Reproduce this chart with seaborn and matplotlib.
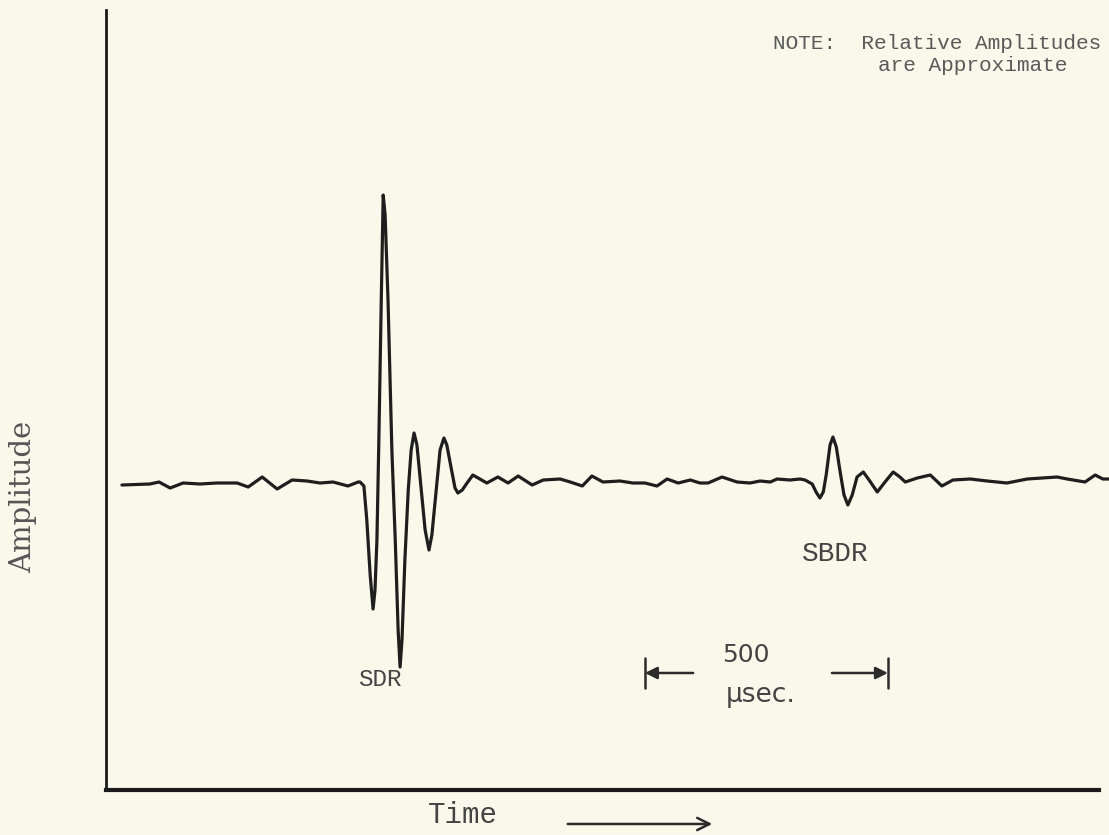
import numpy as np
import pandas as pd
import matplotlib
matplotlib.use("Agg")
import matplotlib.pyplot as plt
import seaborn as sns

# Received waveform: time in microseconds, amplitude in relative units
time_us = [
    33, 91, 110, 133, 160, 195, 230, 272, 295, 324, 355, 386, 417, 444, 471,
    502, 523, 527, 535, 541, 548, 554, 558, 562, 566, 571, 575, 579, 585, 593,
    600, 606, 610, 614, 620, 627, 633, 639, 645, 654, 662, 670, 676, 685, 693,
    701, 707, 716, 724, 730, 739, 749, 761, 790, 813, 834, 855, 884, 907, 942,
    963, 988, 1008, 1031, 1066, 1093, 1118, 1143, 1164, 1187, 1212, 1232, 1249,
    1278, 1309, 1336, 1357, 1378, 1392, 1419, 1440, 1450, 1465, 1473, 1481,
    1488, 1494, 1502, 1508, 1515, 1523, 1531, 1539, 1548, 1558, 1571, 1583,
    1600, 1616, 1633, 1647, 1658, 1683, 1710, 1734, 1757, 1793, 1828, 1869,
    1911, 1973, 1994, 2031, 2052, 2068, 2081,
]
amplitude = [
    -0.03, -0.02, 0.00, -0.06, -0.01, -0.02, -0.01, -0.01, -0.05, 0.05, -0.07,
    0.02, 0.01, -0.01, 0.00, -0.04, 0.00, 0.00, -0.04, -0.38, -0.93, -1.27,
    -1.08, -0.58, 0.42, 1.82, 2.87, 2.67, 1.82, 0.32, -0.58, -1.48, -1.85,
    -1.58, -0.78, -0.08, 0.32, 0.49, 0.37, -0.08, -0.48, -0.68, -0.53, -0.08,
    0.32, 0.44, 0.37, 0.14, -0.06, -0.11, -0.08, -0.01, 0.07, -0.01, 0.05,
    -0.01, 0.06, -0.03, 0.02, 0.03, 0.00, -0.04, 0.06, 0.00, 0.01, -0.01,
    -0.01, -0.04, 0.03, -0.01, 0.02, -0.01, -0.01, 0.05, 0.00, -0.01, 0.01,
    0.00, 0.03, 0.02, 0.03, 0.02, -0.02, -0.10, -0.16, -0.10, 0.07, 0.37,
    0.45, 0.35, 0.10, -0.13, -0.23, -0.13, 0.05, 0.10, 0.02, -0.10, 0.00,
    0.10, 0.05, 0.00, 0.04, 0.07, -0.04, 0.02, 0.03, 0.01, -0.01, 0.03, 0.05,
    0.03, 0.00, 0.07, 0.03, 0.03,
]

note_lines = ["NOTE:  Relative Amplitudes", "are Approximate"]
pulse_labels = {"SDR": (568, -1.98, 17.5), "SBDR": (1512, -0.72, 20)}
scale_start_us, scale_end_us = 1118, 1622
scale_text = ("500", "\u03bcsec.")

BG = "#f9f8ea"
INK = "#2b2b2b"
TYPE = "Liberation Mono"

sns.set_theme(style="white")
plt.rcParams["font.family"] = [TYPE, "DejaVu Sans"]

fig = plt.figure(figsize=(11.09, 8.35), dpi=100, facecolor=BG)
ax = fig.add_axes([0.0956, 0.0539, 0.8954, 0.9341])
ax.set_facecolor(BG)

df = pd.DataFrame({"t": time_us, "a": amplitude})
sns.lineplot(data=df, x="t", y="a", sort=False, estimator=None, ax=ax,
             color="#1e1e1e", linewidth=2.3, solid_joinstyle="round",
             solid_capstyle="round", clip_on=False)

ax.set_xlim(0, 2060)
ax.set_ylim(-3.08, 4.72)
ax.set_xticks([])
ax.set_yticks([])
ax.set_xlabel("")
ax.set_ylabel("")
for side in ("top", "right"):
    ax.spines[side].set_visible(False)
ax.spines["left"].set_color("#1a1a1a")
ax.spines["left"].set_linewidth(2.0)
ax.spines["bottom"].set_color("#1a1a1a")
ax.spines["bottom"].set_linewidth(3.0)

# Note in the upper right
ax.text(1384, 4.39, note_lines[0], fontsize=15.2, color="#5a5a5a",
        ha="left", va="center", clip_on=False)
ax.text(1602, 4.17, note_lines[1], fontsize=15.2, color="#5a5a5a",
        ha="left", va="center", clip_on=False)

# Pulse labels
for name, (tx, ay, fs) in pulse_labels.items():
    ax.text(tx, ay, name, fontsize=fs, color="#444444", ha="center",
            va="center")

# 500 microsecond scale bar
bar_y = -1.91
ax.annotate("", xy=(scale_start_us, bar_y), xytext=(scale_start_us + 100, bar_y),
            arrowprops=dict(arrowstyle="-|>", color=INK, lw=1.8,
                            mutation_scale=18, shrinkA=0, shrinkB=0))
ax.annotate("", xy=(scale_end_us, bar_y), xytext=(scale_end_us - 116, bar_y),
            arrowprops=dict(arrowstyle="-|>", color=INK, lw=1.8,
                            mutation_scale=18, shrinkA=0, shrinkB=0))
ax.plot([scale_start_us, scale_start_us], [bar_y - 0.15, bar_y + 0.15],
        color=INK, lw=1.8)
ax.plot([scale_end_us, scale_end_us], [bar_y - 0.15, bar_y + 0.15],
        color=INK, lw=1.8)
ax.text(1328, -1.73, scale_text[0], fontsize=18, color="#444444",
        ha="center", va="center", family="DejaVu Sans")
ax.text(1359, -2.13, scale_text[1], fontsize=19, color="#444444",
        ha="center", va="center", family="DejaVu Sans")

# Axis labels
fig.text(0.0207, 0.405, "Amplitude", rotation=90, fontsize=21,
         family="DejaVu Serif", color="#555555", ha="center", va="center")
fig.text(0.417, 0.024, "Time", fontsize=21, color="#444444",
         ha="center", va="center")
fig.add_artist(matplotlib.patches.FancyArrowPatch(
    (565 / 1109, 0.0132), (715 / 1109, 0.0132), transform=fig.transFigure,
    arrowstyle="->", mutation_scale=22, color=INK, lw=1.8))

fig.savefig("out.png", dpi=100, facecolor=BG)
